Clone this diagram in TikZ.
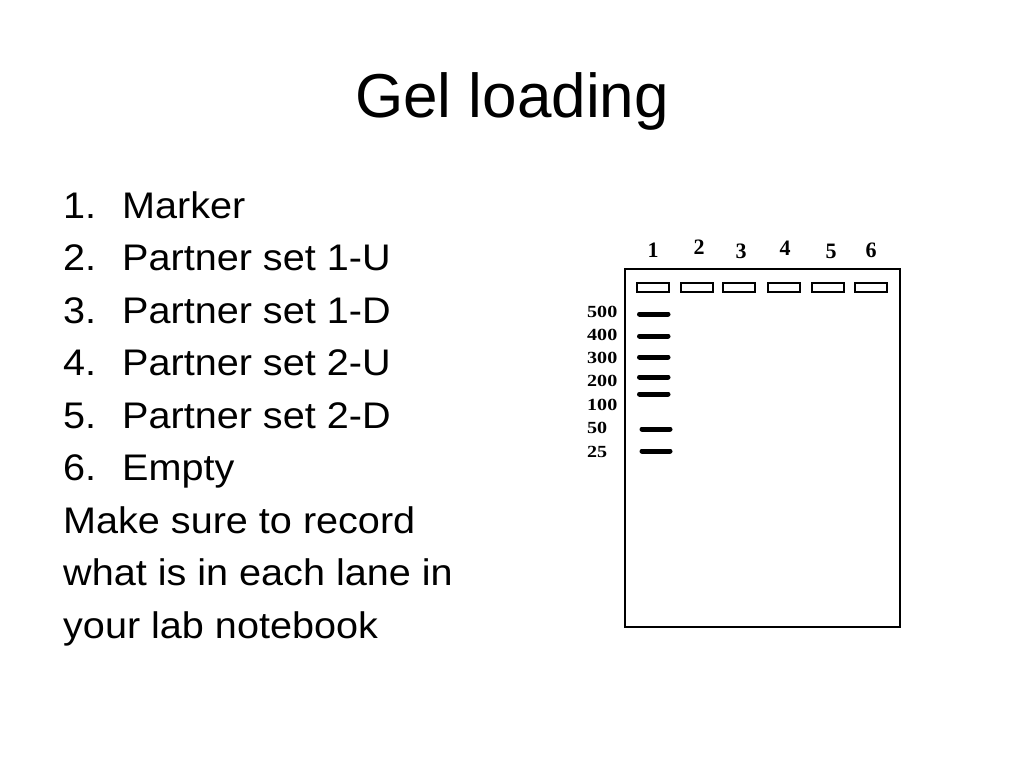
\documentclass[tikz,border=0pt]{standalone}
\usepackage{fontspec}
\setmainfont{Liberation Sans}
\newfontfamily\listfont[FakeStretch=1.07]{Liberation Sans}
\newfontfamily\gelfont{Liberation Serif}
\newfontfamily\sizefont[FakeStretch=1.18]{Liberation Serif}
\usetikzlibrary{positioning}

\begin{document}
\begin{tikzpicture}[x=1pt,y=-1pt,
  every node/.style={inner sep=0pt},
  item/.style={anchor=base west,font=\listfont\fontsize{37}{44}\selectfont},
  lanenum/.style={font=\gelfont\bfseries\fontsize{22}{24}\selectfont},
  sizelabel/.style={anchor=west,font=\sizefont\bfseries\fontsize{17}{20}\selectfont},
  well/.style={draw,line width=2pt,minimum width=32pt,minimum height=9pt},
  band/.style={line width=5pt,line cap=round}]
\useasboundingbox (0,0) rectangle (1024,768);
\node[anchor=base,font=\fontsize{62}{70}\selectfont] (title) at (512,117) {Gel loading};
% lane list
\foreach \t [count=\i] in {Marker,Partner set 1-U,Partner set 1-D,Partner set 2-U,Partner set 2-D,Empty}
{
  \node[item] (num\i) at (63,{218+52.5*(\i-1)}) {\i.};
  \node[item] (item\i) at (122,{218+52.5*(\i-1)}) {\t};
}
\node[item] (note1) at (63,533) {Make sure to record};
\node[item] (note2) at (63,585.5) {what is in each lane in};
\node[item] (note3) at (63,638) {your lab notebook};
% gel
\draw[line width=2pt] (625,269) rectangle (900,627);
\foreach \x/\y [count=\i] in {653/250,699/247,741/251,785/248,831/251,871/250}
  \node[lanenum] (lane\i) at (\x,\y) {\i};
\foreach \x [count=\i] in {652.5,697,739,784,828,871}
  \node[well] (well\i) at (\x,287.5) {};
\foreach \s/\y [count=\i] in {500/312,400/335,300/358,200/381,100/405,50/428,25/452}
  \node[sizelabel] (size\i) at (587,\y) {\s};
\foreach \y in {314,336,357,377,394}
  \draw[band] (639.5,\y) -- (668,\y);
\foreach \y in {429,451}
  \draw[band] (642,\y) -- (670,\y);
\end{tikzpicture}
\end{document}
